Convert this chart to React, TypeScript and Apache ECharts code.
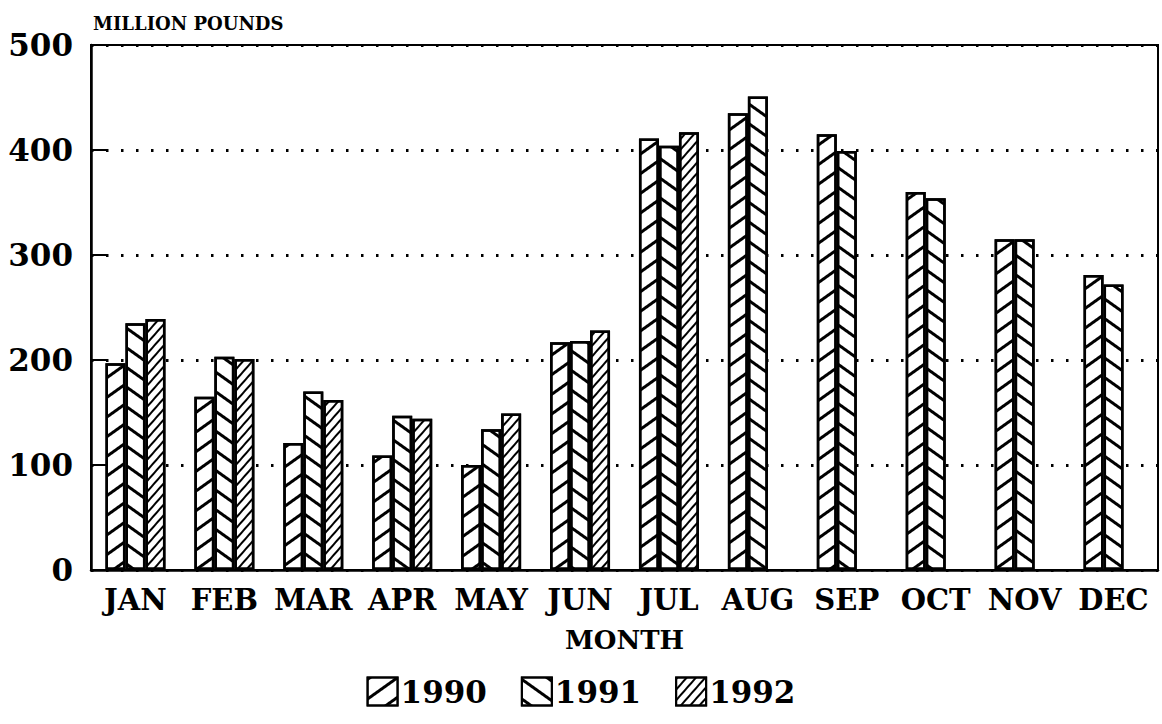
import React, { useEffect, useRef } from "react";
import * as echarts from "echarts";

const months = ["JAN", "FEB", "MAR", "APR", "MAY", "JUN", "JUL", "AUG", "SEP", "OCT", "NOV", "DEC"];
const years = ["1990", "1991", "1992"];
const v1990 = [197, 165, 121, 109, 100, 217, 411, 435, 415, 360, 315, 281];
const v1991 = [235, 203, 170, 147, 134, 218, 404, 451, 399, 354, 315, 272];
const v1992 = [239, 201, 162, 144, 149, 228, 417, null, null, null, null, null];
const yTicks = [0, 100, 200, 300, 400, 500];

const FONT = "DejaVu Serif";

export default function App() {
  const ref = useRef<HTMLDivElement>(null);
  useEffect(() => {
    if (!ref.current) return;
    const chart = echarts.init(ref.current, null, { renderer: "svg" });
    const decals = [
      { symbol: "rect", dashArrayX: [1, 0], dashArrayY: [2.2, 12.5], rotation: -0.62, color: "#000" },
      { symbol: "rect", dashArrayX: [1, 0], dashArrayY: [2.2, 12.5], rotation: 0.62, color: "#000" },
      { symbol: "rect", dashArrayX: [1, 0], dashArrayY: [1.8, 4.6], rotation: -0.85, color: "#000" },
    ];
    const data = [v1990, v1991, v1992];
    chart.setOption({
      animation: false,
      backgroundColor: "#fff",
      title: {
        text: "MILLION POUNDS",
        left: 88,
        top: 9,
        textStyle: { fontFamily: FONT, fontWeight: "bold", fontSize: 18, color: "#000" },
      },
      grid: {
        left: 91,
        right: 4,
        top: 45,
        bottom: 154,
        show: true,
        borderColor: "#000",
        borderWidth: 2,
      },
      legend: {
        bottom: 12,
        left: "center",
        itemWidth: 30,
        itemHeight: 28,
        itemGap: 34,
        icon: "rect",
        data: years,
        textStyle: { fontFamily: FONT, fontWeight: "bold", fontSize: 31, color: "#000", padding: [0, 0, 0, -2] },
      },
      xAxis: {
        type: "category",
        data: months,
        name: "MONTH",
        nameLocation: "middle",
        nameGap: 57,
        nameTextStyle: { fontFamily: FONT, fontWeight: "bold", fontSize: 26, color: "#000" },
        axisLine: { lineStyle: { color: "#000", width: 2.5 } },
        axisTick: { show: false },
        axisLabel: { fontFamily: FONT, fontWeight: "bold", fontSize: 29, color: "#000", margin: 15, interval: 0 },
      },
      yAxis: {
        type: "value",
        min: yTicks[0],
        max: yTicks[yTicks.length - 1],
        interval: 100,
        axisLine: { show: true, lineStyle: { color: "#000", width: 2.5 } },
        axisTick: { show: true, inside: true, length: 16, lineStyle: { color: "#000", width: 2 } },
        axisLabel: { fontFamily: FONT, fontWeight: "bold", fontSize: 31, color: "#000", margin: 18 },
        splitLine: { show: true, lineStyle: { color: "#000", width: 3, type: [2.5, 12.5] } },
      },
      series: years.map((y, i) => ({
        name: y,
        type: "bar",
        data: data[i],
        barWidth: 20,
        barGap: "0%",
        itemStyle: { color: "#fff", borderColor: "#000", borderWidth: 2.5, decal: decals[i] },
      })),
    });
    return () => chart.dispose();
  }, []);
  return <div ref={ref} style={{ position: "fixed", left: 0, top: 0, width: 1162, height: 724 }} />;
}
